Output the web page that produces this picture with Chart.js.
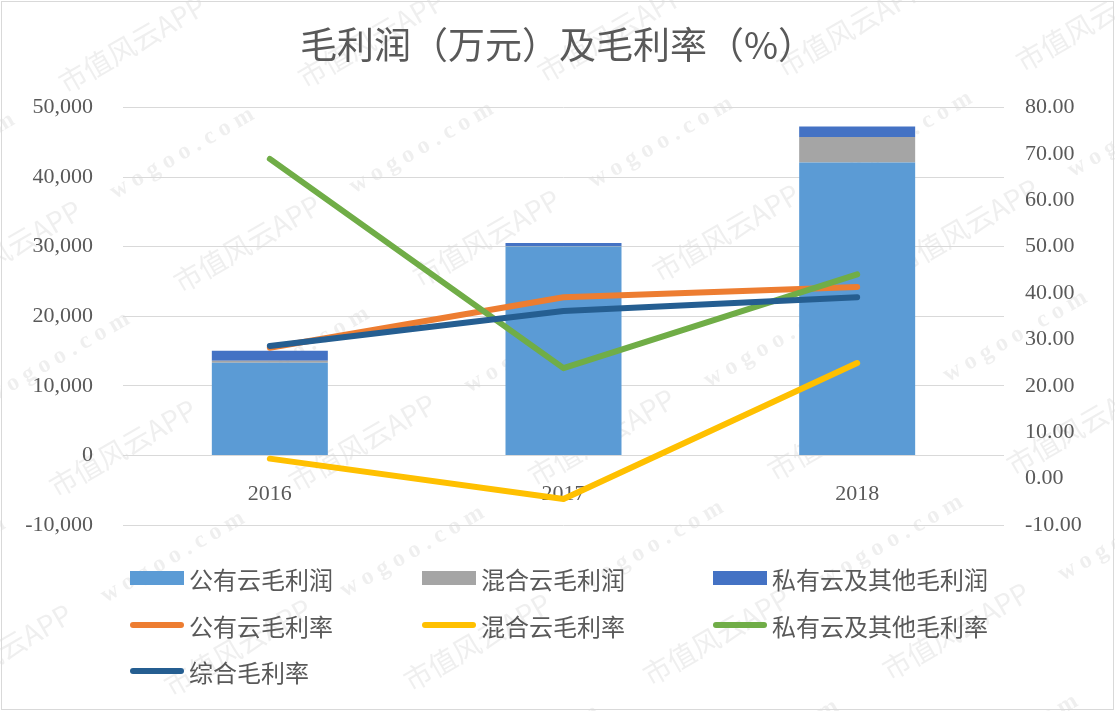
<!DOCTYPE html>
<html>
<head>
<meta charset="utf-8">
<script src="https://cdn.jsdelivr.net/npm/chart.js@4"></script>
<style>
  html, body { margin: 0; padding: 0; background: #fff; }
  #wrap { position: relative; width: 1115px; height: 711px; overflow: hidden; }
  #frame { position: absolute; left: 1px; top: 1px; width: 1111px; height: 707px; border: 1px solid #d9d9d9; }
  canvas { position: absolute; left: 0; top: 0; }
  #legend { position: absolute; left: 0; top: 0; width: 1115px; height: 711px; font-family: "Noto Sans CJK SC"; font-size: 24px; color: #595959; }
  .item { position: absolute; display: flex; align-items: center; height: 30px; white-space: nowrap; }
  .swatch { width: 54px; margin-right: 5px; }
</style>
</head>
<body>
<div id="wrap">
  <canvas id="chart" width="1115" height="711"></canvas>
  <div id="frame"></div>
  <div id="legend"></div>
</div>
<script>
const years = ['2016', '2017', '2018'];

// 毛利润（万元）
const publicProfit = [13300, 30000, 42100];
const hybridProfit = [300, 80, 3650];
const privateProfit = [1450, 450, 1500];

// 毛利率（%）
const publicMargin = [28.2, 39.1, 41.3];
const hybridMargin = [4.3, -4.4, 24.9];
const privateMargin = [68.9, 23.8, 44.0];
const totalMargin = [28.6, 36.1, 39.1];

const leftTicks = { min: -10000, max: 50000, step: 10000 };
const rightTicks = { min: -10, max: 80, step: 10 };

const textColor = '#595959';
const tickFont = { family: 'Liberation Serif', size: 22 };

// faint diagonal site watermark, as in the original image
const watermark = {
    id: 'watermark',
    beforeDraw(chart) {
        const c = chart.ctx;
        c.save();
        c.fillStyle = 'rgba(180,180,180,0.22)';
        c.rotate(-Math.PI / 6);
        for (let r = -4; r < 14; r++) {
            for (let k = -3; k < 7; k++) {
                const u = k * 420 + (r % 2) * 210 - 200;
                const v = r * 115;
                c.font = '28px "Noto Sans CJK SC"';
                c.fillText('市值风云APP', u, v);
                c.font = 'bold 24px "Liberation Serif"';
                c.fillText('w o g o o . c o m', u + 200, v);
            }
        }
        c.restore();
    }
};

const bar = (label, data, color) => ({
    type: 'bar', label, data, backgroundColor: color, yAxisID: 'y',
    stack: 'profit', order: 10, barPercentage: 0.395, categoryPercentage: 1
});
const line = (label, data, color, order) => ({
    type: 'line', label, data, borderColor: color, backgroundColor: color, yAxisID: 'y1',
    borderWidth: 6, pointRadius: 0, borderCapStyle: 'round', borderJoinStyle: 'round',
    tension: 0, order
});

const datasets = [
    bar('公有云毛利润', publicProfit, '#5b9bd5'),
    bar('混合云毛利润', hybridProfit, '#a5a5a5'),
    bar('私有云及其他毛利润', privateProfit, '#4472c4'),
    line('公有云毛利率', publicMargin, '#ed7d31', 4),
    line('混合云毛利率', hybridMargin, '#ffc000', 3),
    line('私有云及其他毛利率', privateMargin, '#70ad47', 2),
    line('综合毛利率', totalMargin, '#255e91', 1)
];

new Chart(document.getElementById('chart').getContext('2d'), {
    data: { labels: years, datasets },
    plugins: [watermark],
    options: {
        responsive: false,
        animation: false,
        layout: { padding: { left: 0, right: 0, top: 0, bottom: 186 } },
        plugins: {
            legend: { display: false },
            tooltip: { enabled: false },
            title: {
                display: true,
                text: '毛利润（万元）及毛利率（%）',
                color: textColor,
                font: { family: 'Noto Sans CJK SC', size: 37, weight: 'normal' },
                padding: { top: 23, bottom: 40 }
            }
        },
        scales: {
            x: {
                stacked: true,
                position: { y: 0 },
                grid: { display: false },
                border: { display: false },
                ticks: { color: textColor, font: tickFont, padding: 18 },
                afterFit(s) { s.height = 0; }
            },
            y: {
                stacked: true,
                position: 'left',
                min: leftTicks.min,
                max: leftTicks.max,
                grid: { color: '#d9d9d9', drawTicks: false },
                border: { display: false },
                ticks: {
                    stepSize: leftTicks.step, color: textColor, font: tickFont, padding: 30,
                    callback: v => v.toLocaleString('en-US')
                },
                afterFit(s) { s.width = 123; }
            },
            y1: {
                position: 'right',
                min: rightTicks.min,
                max: rightTicks.max,
                grid: { drawOnChartArea: false, drawTicks: false },
                border: { display: false },
                ticks: {
                    stepSize: rightTicks.step, color: textColor, font: tickFont, padding: 21,
                    callback: v => v.toFixed(2)
                },
                afterFit(s) { s.width = 111; }
            }
        }
    }
});

// legend laid out in three columns like the original
const legendEl = document.getElementById('legend');
const colX = [130, 422, 713];
const rowY = [563, 610, 656];
datasets.forEach((ds, i) => {
    const item = document.createElement('div');
    item.className = 'item';
    item.style.left = colX[i % 3] + 'px';
    item.style.top = rowY[Math.floor(i / 3)] + 'px';
    const sw = document.createElement('span');
    sw.className = 'swatch';
    if (ds.type === 'bar') {
        sw.style.height = '14px';
        sw.style.background = ds.backgroundColor;
    } else {
        sw.style.height = '6px';
        sw.style.borderRadius = '3px';
        sw.style.background = ds.borderColor;
    }
    item.appendChild(sw);
    item.appendChild(document.createTextNode(ds.label));
    legendEl.appendChild(item);
});
</script>
</body>
</html>
